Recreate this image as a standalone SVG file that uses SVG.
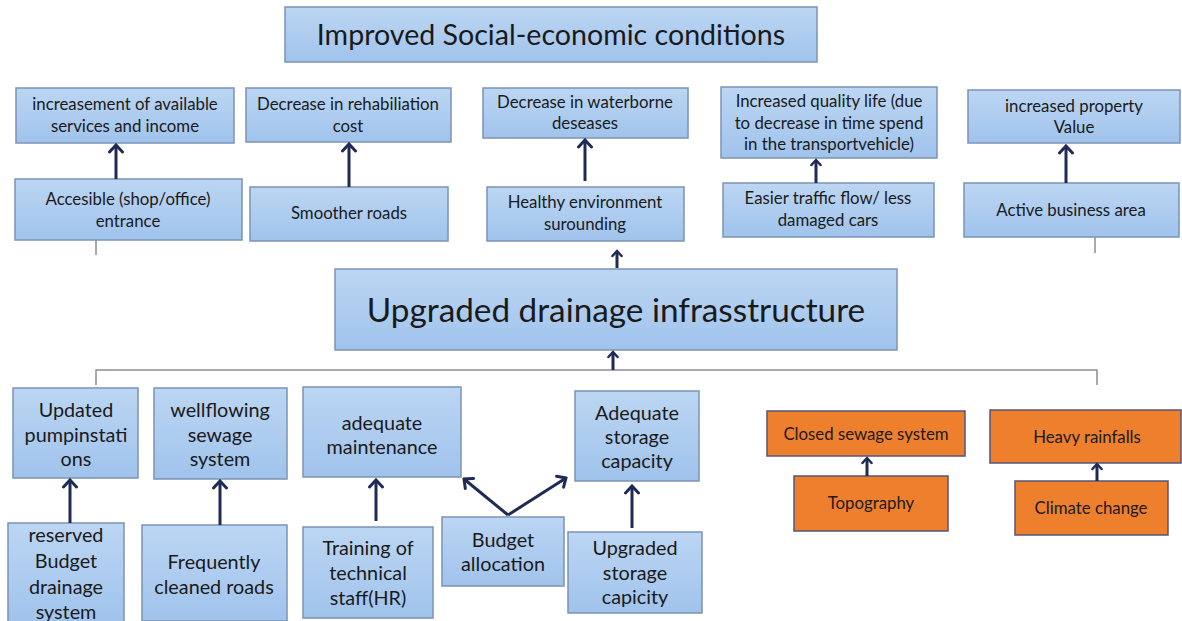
<svg xmlns="http://www.w3.org/2000/svg" width="1182" height="621" viewBox="0 0 1182 621">
<defs>
<linearGradient id="blue" x1="0" y1="0" x2="0" y2="1">
<stop offset="0" stop-color="#bcd6f3"/>
<stop offset="1" stop-color="#a0c3ec"/>
</linearGradient>
<marker id="arr" viewBox="-10 -9 12 18" refX="0" refY="0" markerWidth="12" markerHeight="18" markerUnits="userSpaceOnUse" orient="auto">
<path d="M-7,-6.5 L0,0 L-7,6.5" fill="none" stroke="#1f2a55" stroke-width="3" stroke-linecap="round" stroke-linejoin="miter"/>
</marker>
<marker id="arrs" viewBox="-10 -9 12 18" refX="0" refY="0" markerWidth="10" markerHeight="15" markerUnits="userSpaceOnUse" orient="auto">
<path d="M-6,-5.5 L0,0 L-6,5.5" fill="none" stroke="#1f2a55" stroke-width="3" stroke-linecap="round"/>
</marker>
</defs>
<style>
.b{fill:url(#blue);stroke:#7b93b5;stroke-width:1.5}
.o{fill:#ee7f2d;stroke:#55557a;stroke-width:1.5}
text{font-family:Lato,"Liberation Sans",sans-serif;fill:#1a1a1a;text-anchor:middle}
.s{font-size:16.8px}
.m{font-size:19.8px}
.a{fill:none;stroke:#1f2a55;stroke-width:3;marker-end:url(#arr)}
.as{fill:none;stroke:#1f2a55;stroke-width:3;marker-end:url(#arrs)}
.g{fill:none;stroke:#8c8c96;stroke-width:1.5}
</style>
<rect width="1182" height="621" fill="#ffffff"/>

<g id="title"><rect class="b" x="285" y="7" width="532" height="55"/><text x="551" y="45" style="font-size:28.6px">Improved Social-economic conditions</text></g>

<g id="a1"><rect class="b" x="16" y="88" width="218" height="55"/><text class="s" x="125" y="110">increasement of available</text><text class="s" x="125" y="132">services and income</text></g>
<g id="a2"><rect class="b" x="246" y="88" width="205" height="54"/><text class="s" x="348" y="110">Decrease in rehabiliation</text><text class="s" x="348" y="132">cost</text></g>
<g id="a3"><rect class="b" x="483" y="88" width="205" height="50"/><text class="s" x="585" y="108">Decrease in waterborne</text><text class="s" x="585" y="129">deseases</text></g>
<g id="a4"><rect class="b" x="721" y="87" width="216" height="71"/><text class="s" x="829" y="107">Increased quality life (due</text><text class="s" x="829" y="129">to decrease in time spend</text><text class="s" x="829" y="150">in the transportvehicle)</text></g>
<g id="a5"><rect class="b" x="968" y="90" width="212" height="53"/><text class="s" x="1074" y="112">increased property</text><text class="s" x="1074" y="133">Value</text></g>

<g id="b1"><rect class="b" x="15" y="179" width="227" height="61"/><text class="s" x="128" y="205">Accesible (shop/office)</text><text class="s" x="128" y="227">entrance</text></g>
<g id="b2"><rect class="b" x="250" y="187" width="198" height="54"/><text class="s" x="349" y="219">Smoother roads</text></g>
<g id="b3"><rect class="b" x="487" y="187" width="197" height="54"/><text class="s" x="585" y="208">Healthy environment</text><text class="s" x="585" y="230">surounding</text></g>
<g id="b4"><rect class="b" x="723" y="183" width="211" height="54"/><text class="s" x="828" y="204">Easier traffic flow/ less</text><text class="s" x="828" y="226">damaged cars</text></g>
<g id="b5"><rect class="b" x="964" y="183" width="215" height="54"/><text class="s" x="1071" y="216">Active business area</text></g>

<g id="drainage"><rect class="b" x="335" y="269" width="562" height="81"/><text x="616" y="322" style="font-size:33.3px">Upgraded drainage infrasstructure</text></g>

<g id="c1"><rect class="b" x="13" y="388" width="125" height="90"/><text class="m" x="76" y="417">Updated</text><text class="m" x="76" y="442">pumpinstati</text><text class="m" x="76" y="466">ons</text></g>
<g id="c2"><rect class="b" x="154" y="388" width="133" height="91"/><text class="m" x="220" y="417">wellflowing</text><text class="m" x="220" y="442">sewage</text><text class="m" x="220" y="466">system</text></g>
<g id="c3"><rect class="b" x="303" y="387" width="158" height="90"/><text class="m" x="382" y="430">adequate</text><text class="m" x="382" y="454">maintenance</text></g>
<g id="c4"><rect class="b" x="575" y="391" width="124" height="90"/><text class="m" x="637" y="420">Adequate</text><text class="m" x="637" y="444">storage</text><text class="m" x="637" y="468">capacity</text></g>

<g id="d1"><rect class="b" x="8" y="523" width="116" height="100"/><text class="m" x="66" y="542">reserved</text><text class="m" x="66" y="568">Budget</text><text class="m" x="66" y="594">drainage</text><text class="m" x="66" y="619">system</text></g>
<g id="d2"><rect class="b" x="142" y="525" width="145" height="96"/><text class="m" x="214" y="569">Frequently</text><text class="m" x="214" y="594">cleaned roads</text></g>
<g id="d3"><rect class="b" x="303" y="527" width="130" height="91"/><text class="m" x="368" y="555">Training of</text><text class="m" x="368" y="580">technical</text><text class="m" x="368" y="605">staff(HR)</text></g>
<g id="d4"><rect class="b" x="442" y="517" width="122" height="69"/><text class="m" x="503" y="547">Budget</text><text class="m" x="503" y="571">allocation</text></g>
<g id="d5"><rect class="b" x="568" y="532" width="134" height="81"/><text class="m" x="635" y="555">Upgraded</text><text class="m" x="635" y="580">storage</text><text class="m" x="635" y="604">capicity</text></g>

<g id="e1"><rect class="o" x="767" y="411" width="198" height="45"/><text class="s" x="866" y="440">Closed sewage system</text></g>
<g id="f1"><rect class="o" x="794" y="476" width="154" height="55"/><text class="s" x="871" y="509">Topography</text></g>
<g id="e2"><rect class="o" x="990" y="410" width="191" height="53"/><text class="s" x="1087" y="443">Heavy rainfalls</text></g>
<g id="f2"><rect class="o" x="1015" y="481" width="153" height="54"/><text class="s" x="1091" y="514">Climate change</text></g>

<g id="connectors">
<line class="a" x1="116" y1="179" x2="116" y2="145"/>
<line class="a" x1="349" y1="187" x2="349" y2="144"/>
<line class="a" x1="585" y1="181" x2="585" y2="140"/>
<line class="as" x1="816" y1="183" x2="816" y2="160"/>
<line class="a" x1="1066" y1="183" x2="1066" y2="146"/>
<line class="g" x1="96" y1="240" x2="96" y2="255"/>
<line class="g" x1="1095" y1="237" x2="1095" y2="253"/>
<line class="as" x1="617" y1="268" x2="617" y2="251"/>
<polyline class="g" points="96,385 96,370 1097,370 1097,385"/>
<line class="as" x1="613" y1="370" x2="613" y2="352"/>
<line class="a" x1="70" y1="523" x2="70" y2="480"/>
<line class="a" x1="220" y1="525" x2="220" y2="481"/>
<line class="a" x1="376" y1="521" x2="376" y2="480"/>
<line class="a" x1="632" y1="528" x2="632" y2="486"/>
<line class="a" x1="508" y1="515" x2="464" y2="479"/>
<line class="a" x1="508" y1="515" x2="566" y2="478"/>
<line class="as" x1="867" y1="476" x2="867" y2="458"/>
<line class="as" x1="1097" y1="481" x2="1097" y2="464"/>
</g>
</svg>
